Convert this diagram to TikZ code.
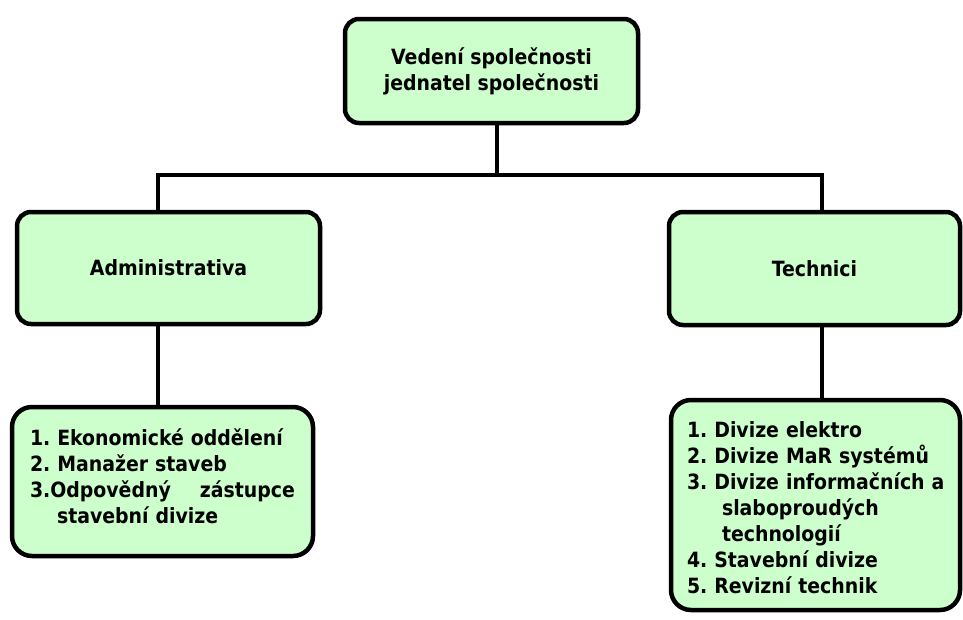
\documentclass[tikz,border=0pt]{standalone}
\usepackage{fontspec}
\setmainfont{DejaVu Sans Condensed}
\frenchspacing
\definecolor{boxgreen}{RGB}{204,255,204}
\tikzset{
  box/.style={draw=black, line width=4.5pt, fill=boxgreen, rounded corners=14pt,
    font=\fontsize{21}{26}\selectfont\bfseries, text=black, inner sep=0pt},
  listbox/.style={box, rounded corners=20pt, align=left},
  conn/.style={draw=black, line width=3.2pt},
}
\begin{document}
\begin{tikzpicture}[x=1pt,y=-1pt]
\useasboundingbox (0,0) rectangle (963,619);
% boxes
\node[box, minimum width=293pt, minimum height=104pt, align=center] (top) at (491.5,71)
  {Vedení společnosti\\jednatel společnosti};
\node[box, minimum width=303pt, minimum height=112pt] (admin) at (168.5,268) {Administrativa};
\node[box, minimum width=291pt, minimum height=113pt] (tech) at (814.5,268.5) {Technici};
\node[listbox, text width=265pt, inner xsep=18pt, minimum height=149pt] (ll) at (162.5,481.5)
  {\mbox{1. Ekonomické oddělení}\\
   \mbox{2. Manažer staveb}\\
   \makebox[\linewidth][l]{3.Odpovědný\hfill zástupce}\\
   \hspace*{27pt}\mbox{stavební divize}\par\vspace{10pt}};
\node[listbox, text width=257pt, inner xsep=16pt, minimum height=210pt] (lr) at (815.5,505)
  {\mbox{1. Divize elektro}\\
   \mbox{2. Divize MaR systémů}\\
   \mbox{3. Divize informačních a}\\
   \hspace*{35pt}\mbox{slaboproudých}\\
   \hspace*{35pt}\mbox{technologií}\\
   \mbox{4. Stavební divize}\\
   \mbox{5. Revizní technik}\par\vspace*{0pt}\vspace{-6pt}};
% connectors
\coordinate (hub) at (497,175);
\coordinate (lx) at (158,175);
\coordinate (rx) at (822,175);
\draw[conn] (top.south -| hub) -- (hub);
\draw[conn] ([xshift=-1.6pt]lx) -- ([xshift=1.6pt]rx);
\draw[conn] (lx) -- (admin.north -| lx);
\draw[conn] (rx) -- (tech.north -| rx);
\draw[conn] (admin.south -| lx) -- (ll.north -| lx);
\draw[conn] (tech.south -| rx) -- (lr.north -| rx);
\end{tikzpicture}
\end{document}
